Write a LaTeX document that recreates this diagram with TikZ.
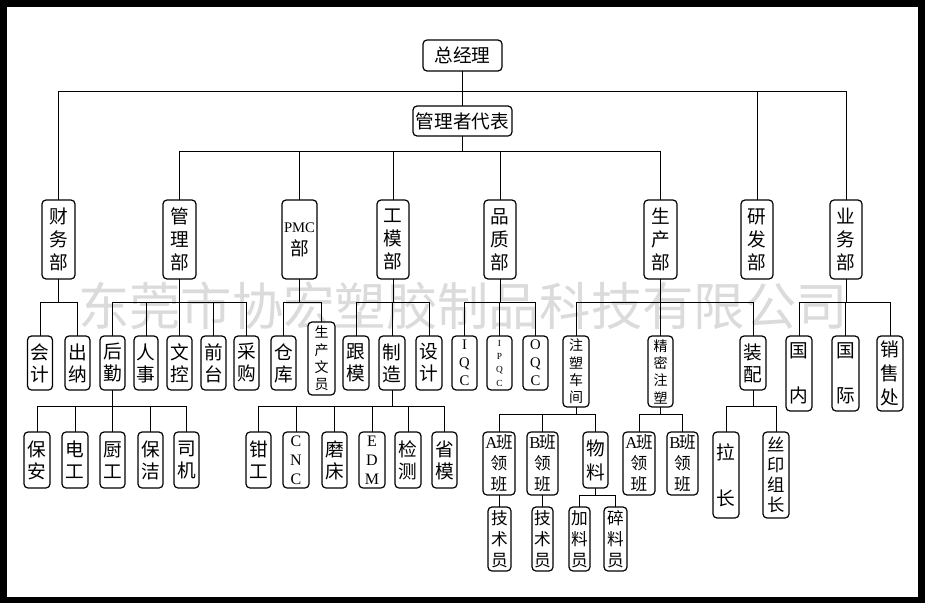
\documentclass[tikz,border=0pt]{standalone}
\usepackage{fontspec}
\setmainfont{Liberation Serif}
\newfontfamily\cjk{Noto Sans CJK SC}
\newcommand{\lat}[1]{{\rmfamily\fontsize{11}{17.25}\selectfont #1}}
\newcommand{\bx}[7]{\node[bx,#2,minimum width=#3*0.75pt,minimum height=#4*0.75pt] (#1) at (#5,#6) {#7};}
\newcommand{\grp}[5]{%
  \draw[ln] (#1.south) -- (#1.south |- 0,#2);
  \draw[ln] (#3.north |- 0,#2) -- (#4.north |- 0,#2);
  \foreach \ch in {#5} {\draw[ln] (\ch.north) -- (\ch.north |- 0,#2);}
}
\tikzset{
  bx/.style={draw, line width=0.9pt, rounded corners=3pt, fill=white, inner sep=0pt, align=center},
  ln/.style={line width=0.75pt, line cap=rect},
  fT/.style={font=\cjk\fontsize{14}{17}\selectfont},
  fA/.style={font=\cjk\fontsize{14}{17.25}\selectfont},
  fB/.style={font=\cjk\fontsize{14}{16.5}\selectfont},
  fE/.style={font=\cjk\fontsize{14}{18}\selectfont},
  fC/.style={font=\cjk\fontsize{10.5}{13}\selectfont},
  fD/.style={font=\cjk\fontsize{12.5}{15.75}\selectfont},
  fG/.style={font=\cjk\fontsize{13}{15}\selectfont},
  fL/.style={font=\rmfamily\fontsize{11}{13.5}\selectfont},
  fS/.style={font=\rmfamily\fontsize{7}{10}\selectfont},
  fM/.style={font=\rmfamily\fontsize{12}{14.25}\selectfont},
  wm/.style={font=\cjk\fontsize{38.5}{40}\selectfont, text=black!14, inner sep=0pt},
}
\begin{document}
\begin{tikzpicture}[x=0.75pt,y=-0.75pt]
\useasboundingbox (0,0) rectangle (925,603);
\fill[black] (0,0) rectangle (925,603);
\fill[white] (7,7) rectangle (918,597);
\node[wm] (wm) at (463,306) {东莞市协宏塑胶制品科技有限公司};
% level 0/1
\bx{zjl}{fT}{79}{31}{462.5}{55.5}{总经理}
\bx{glz}{fT}{99}{30}{462.5}{121}{管理者代表}
% level 2
\bx{cw}{fA}{33}{79}{58.5}{239.5}{财\\务\\部}
\bx{glb}{fA}{33}{79}{179.5}{239.5}{管\\理\\部}
\bx{pmc}{fA}{35}{79}{299.5}{239.5}{\lat{PMC}\\部}
\bx{gm}{fA}{32}{79}{393}{239.5}{工\\模\\部}
\bx{pz}{fA}{32}{79}{500}{239.5}{品\\质\\部}
\bx{sc}{fA}{33}{79}{660.5}{239.5}{生\\产\\部}
\bx{yf}{fA}{32}{79}{757}{239.5}{研\\发\\部}
\bx{yw}{fA}{32}{79}{846}{239.5}{业\\务\\部}
% level 3
\bx{kj}{fB}{25}{54}{40}{363}{会\\计}
\bx{cn}{fB}{25}{54}{77.5}{363}{出\\纳}
\bx{hq}{fB}{25}{54}{112.5}{363}{后\\勤}
\bx{rs}{fB}{24}{54}{146}{363}{人\\事}
\bx{wk}{fB}{25}{54}{179.5}{363}{文\\控}
\bx{qt}{fB}{25}{54}{213.5}{363}{前\\台}
\bx{cg}{fB}{25}{54}{246.5}{363}{采\\购}
\bx{ck}{fB}{25}{54}{283.5}{363}{仓\\库}
\bx{scwy}{fC}{27}{73}{321.5}{358.5}{生\\产\\文\\员}
\bx{gmo}{fB}{26}{54}{356}{363}{跟\\模}
\bx{zz}{fB}{26}{54}{392}{363}{制\\造}
\bx{sj}{fB}{26}{54}{429}{363}{设\\计}
\bx{iqc}{fL}{25}{54}{464.5}{363}{I\\Q\\C}
\bx{ipqc}{fS}{25}{54}{499.5}{363}{I\\P\\Q\\C}
\bx{oqc}{fL}{25}{54}{535.5}{363}{O\\Q\\C}
\bx{zscj}{fC}{26}{71}{576}{371.5}{注\\塑\\车\\间}
\bx{jmzs}{fC}{25}{71}{660.5}{371.5}{精\\密\\注\\塑}
\bx{zp}{fB}{26}{54}{753}{363}{装\\配}
\bx{gn}{fB}{26}{75}{799}{373.5}{国\\[16.9pt]内}
\bx{gj}{fB}{27}{75}{845.5}{373.5}{国\\[16.9pt]际}
\bx{xsc}{fE}{26}{75}{890}{373.5}{销\\售\\处}
% level 4
\bx{ba}{fB}{26}{56}{37}{460}{保\\安}
\bx{dg}{fB}{26}{56}{75}{460}{电\\工}
\bx{cgo}{fB}{25}{56}{112.5}{460}{厨\\工}
\bx{bj}{fB}{25}{56}{150.5}{460}{保\\洁}
\bx{sj2}{fB}{25}{56}{186.5}{460}{司\\机}
\bx{qg}{fB}{25}{56}{258.5}{460}{钳\\工}
\bx{cnc}{fM}{26}{56}{296}{460}{C\\N\\C}
\bx{mc}{fB}{25}{56}{334.5}{460}{磨\\床}
\bx{edm}{fM}{26}{56}{372}{460}{E\\D\\M}
\bx{jc}{fB}{26}{56}{408}{460}{检\\测}
\bx{sm}{fB}{25}{56}{444.5}{460}{省\\模}
\bx{a1}{fD}{32}{63}{499}{463.5}{{\rmfamily A}\kern-1pt 班\\领\\班}
\bx{b1}{fD}{31}{63}{542.5}{463.5}{{\rmfamily B}\kern-1pt 班\\领\\班}
\bx{wl}{fE}{25}{56}{595.5}{460}{物\\料}
\bx{a2}{fD}{32}{63}{639}{463.5}{{\rmfamily A}\kern-1pt 班\\领\\班}
\bx{b2}{fD}{31}{63}{682.5}{463.5}{{\rmfamily B}\kern-1pt 班\\领\\班}
\bx{lz}{fB}{26}{86}{726}{475}{拉\\[18pt]长}
\bx{sy}{fG}{26}{86}{776}{475}{丝\\印\\组\\长}
% level 5
\bx{js1}{fD}{23}{64}{499.5}{539}{技\\术\\员}
\bx{js2}{fD}{21}{64}{542.5}{539}{技\\术\\员}
\bx{jly}{fD}{21}{64}{579.5}{539}{加\\料\\员}
\bx{sly}{fD}{23}{64}{615.5}{539}{碎\\料\\员}
% connectors
\draw[ln] (zjl.south) -- (glz.north);
\draw[ln] (cw.north |- 0,91) -- (yw.north |- 0,91);
\foreach \ch in {cw,yf,yw} {\draw[ln] (\ch.north) -- (\ch.north |- 0,91);}
\grp{glz}{151}{glb}{sc}{glb,pmc,gm,pz,sc}
\grp{cw}{302}{kj}{cn}{kj,cn}
\grp{glb}{302}{hq}{cg}{hq,rs,wk,qt,cg}
\grp{pmc}{302}{ck}{scwy}{ck,scwy}
\grp{gm}{302}{gmo}{sj}{gmo,zz,sj}
\grp{pz}{302}{iqc}{oqc}{iqc,ipqc,oqc}
\grp{sc}{302}{zscj}{zp}{zscj,jmzs,zp}
\grp{yw}{302}{gn}{xsc}{gn,gj,xsc}
\grp{hq}{406}{ba}{sj2}{ba,dg,cgo,bj,sj2}
\grp{zz}{406}{qg}{sm}{qg,cnc,mc,edm,jc,sm}
\grp{zscj}{414}{a1}{wl}{a1,b1,wl}
\grp{jmzs}{414}{a2}{b2}{a2,b2}
\grp{zp}{406}{lz}{sy}{lz,sy}
\grp{wl}{495}{jly}{sly}{jly,sly}
\draw[ln] (a1.south) -- (a1.south |- js1.north);
\draw[ln] (b1.south) -- (b1.south |- js2.north);
\end{tikzpicture}
\end{document}
